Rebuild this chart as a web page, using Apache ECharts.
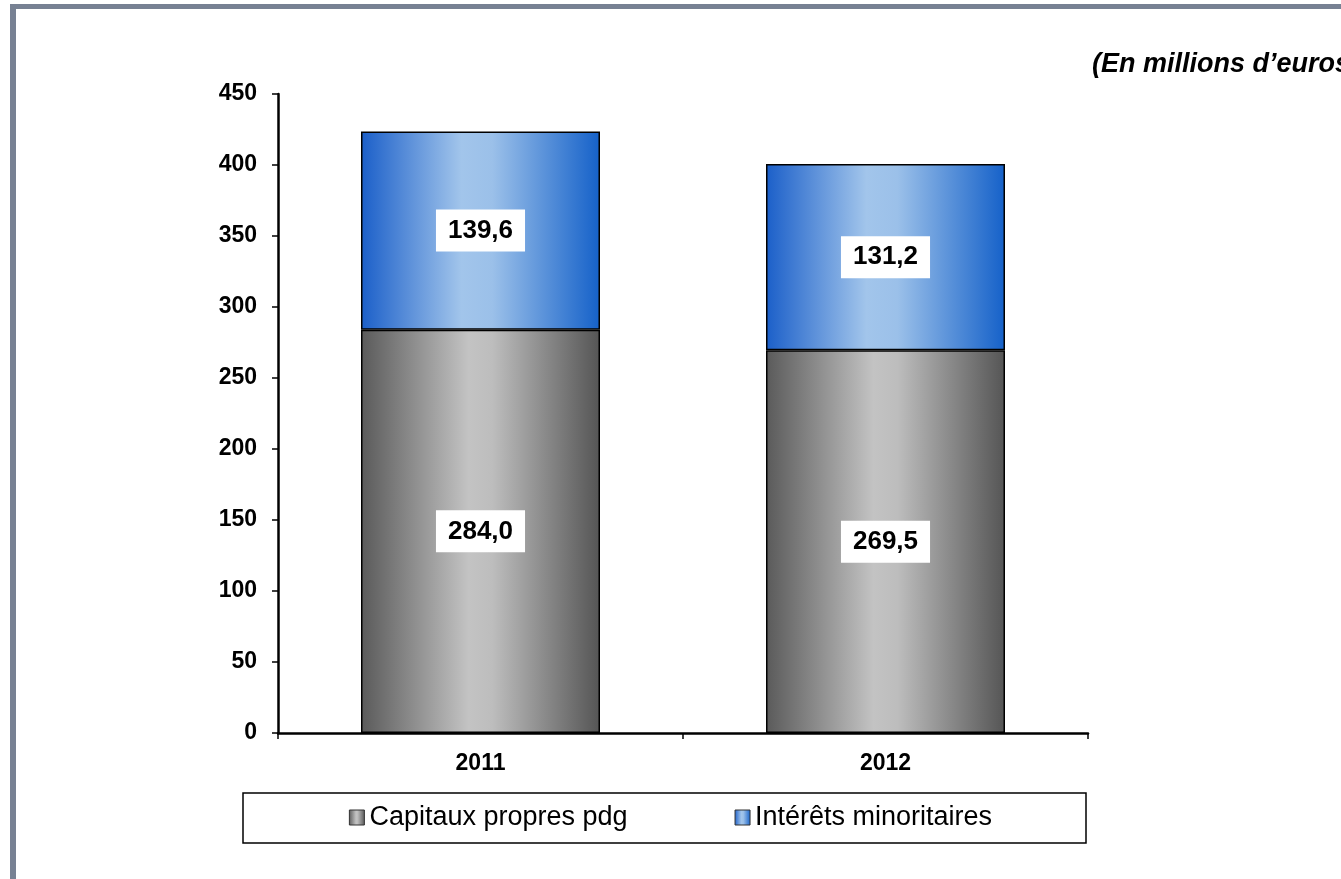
<!DOCTYPE html>
<html>
<head>
<meta charset="utf-8">
<script src="https://cdn.jsdelivr.net/npm/echarts@6/dist/echarts.min.js"></script>
<style>
html,body{margin:0;padding:0;background:#fff;overflow:hidden;}
#chart{width:1341px;height:879px;}
</style>
</head>
<body>
<div id="chart"></div>
<script>
var categories = ['2011', '2012'];
var capitauxPropres = [284.0, 269.5];
var interetsMinoritaires = [139.6, 131.2];
var seriesNames = ['Capitaux propres pdg', 'Intérêts minoritaires'];
var yTicks = [0, 50, 100, 150, 200, 250, 300, 350, 400, 450];
var unitNote = '(En millions d\u2019euros)';

var chart = echarts.init(document.getElementById('chart'), null, {renderer: 'canvas'});
var FONT = '"Liberation Sans", Arial, sans-serif';

function fmt(v) { return v.toFixed(1).replace('.', ','); }

var grayGrad = new echarts.graphic.LinearGradient(0, 0, 1, 0, [
  {offset: 0, color: '#5a5a5a'},
  {offset: 0.45, color: '#c3c3c3'},
  {offset: 0.55, color: '#bdbdbd'},
  {offset: 1, color: '#555555'}
]);
var blueGrad = new echarts.graphic.LinearGradient(0, 0, 1, 0, [
  {offset: 0, color: '#1b5fc9'},
  {offset: 0.42, color: '#a2c5eb'},
  {offset: 0.55, color: '#9bc0e9'},
  {offset: 1, color: '#1561c9'}
]);

var labelStyle = {
  show: true,
  position: 'inside',
  formatter: function (p) { return fmt(p.value); },
  fontFamily: FONT,
  fontSize: 26,
  fontWeight: 'bold',
  color: '#000',
  backgroundColor: '#fff',
  padding: [8, 12, 8, 12]
};

var option = {
  backgroundColor: '#fff',
  animation: false,
  grid: {left: 278, right: 253, top: 94, bottom: 146, containLabel: false},
  graphic: [
    {type: 'rect', shape: {x: 10, y: 4, width: 1400, height: 5}, style: {fill: '#778193'}, silent: true},
    {type: 'rect', shape: {x: 10, y: 4, width: 6, height: 900}, style: {fill: '#778193'}, silent: true},
    {type: 'rect', shape: {x: 243, y: 793, width: 843, height: 50}, style: {fill: '#fff', stroke: '#000', lineWidth: 1.5}, silent: true, z: -1},
    {type: 'text', left: 1092, top: 51, style: {text: unitNote, font: 'italic bold 27px ' + FONT, fill: '#000'}, silent: true}
  ],
  legend: {
    data: seriesNames,
    left: 'center',
    top: 804,
    padding: 0,
    itemGap: 107,
    itemWidth: 15,
    itemHeight: 15,
    itemStyle: {borderColor: '#333', borderWidth: 1},
    textStyle: {fontFamily: FONT, fontSize: 27, color: '#000'},
    icon: 'rect'
  },
  xAxis: {
    type: 'category',
    data: categories,
    axisLine: {lineStyle: {color: '#000', width: 2.5}},
    axisTick: {show: true, length: 6, lineStyle: {color: '#000', width: 1.5}},
    axisLabel: {fontFamily: FONT, fontSize: 23, fontWeight: 'bold', color: '#000', margin: 19}
  },
  yAxis: {
    type: 'value',
    min: 0,
    max: 450,
    interval: 50,
    axisLine: {show: true, lineStyle: {color: '#000', width: 2.5}},
    axisTick: {show: true, length: 6, lineStyle: {color: '#000', width: 1.5}},
    splitLine: {show: false},
    axisLabel: {fontFamily: FONT, fontSize: 23, fontWeight: 'bold', color: '#000', margin: 21,
      formatter: function (v) { return yTicks.indexOf(v) >= 0 ? String(v) : ''; }}
  },
  series: [
    {
      name: seriesNames[0],
      type: 'bar',
      stack: 'total',
      data: capitauxPropres,
      barWidth: 239,
      itemStyle: {color: grayGrad, borderColor: '#000', borderWidth: 1.5},
      label: labelStyle
    },
    {
      name: seriesNames[1],
      type: 'bar',
      stack: 'total',
      data: interetsMinoritaires,
      barWidth: 239,
      itemStyle: {color: blueGrad, borderColor: '#000', borderWidth: 1.5},
      label: labelStyle
    }
  ]
};
chart.setOption(option);
</script>
</body>
</html>
